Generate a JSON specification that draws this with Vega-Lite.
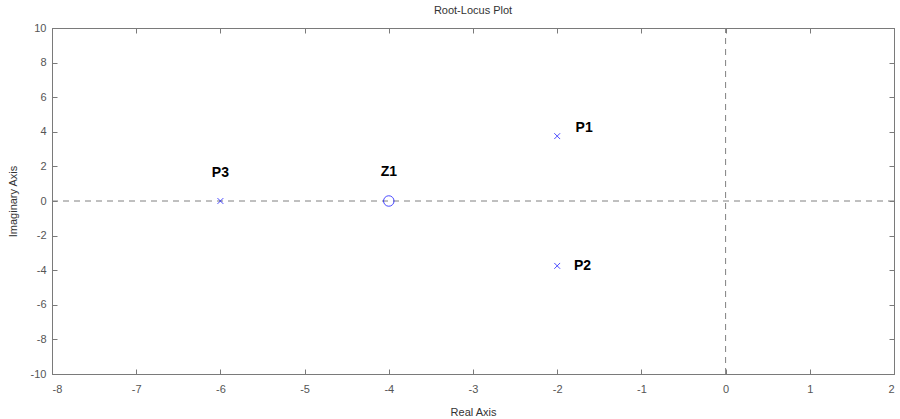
{
  "$schema": "https://vega.github.io/schema/vega-lite/v6.json",
  "width": 842,
  "height": 346,
  "autosize": {"type": "none"},
  "padding": {"left": 52, "top": 28, "right": 6, "bottom": 45},
  "background": "white",
  "config": {
    "font": "Liberation Sans",
    "view": {"stroke": "#7a7a7a", "strokeWidth": 1},
    "axis": {
      "grid": false,
      "domainColor": "#7a7a7a",
      "tickColor": "#7a7a7a",
      "labelColor": "#555555",
      "labelFontSize": 11,
      "titleFontSize": 11,
      "titleFontWeight": "normal",
      "titleColor": "#333333",
      "tickSize": -5
    }
  },
  "title": {
    "text": "Root-Locus Plot",
    "fontSize": 11,
    "fontWeight": "normal",
    "color": "#333333",
    "offset": 6
  },
  "datasets": {
    "pts": [
      {"re": -2, "im": 3.75, "kind": "pole", "label": "P1", "lx": -1.68, "ly": 4.2},
      {"re": -2, "im": -3.75, "kind": "pole", "label": "P2", "lx": -1.7, "ly": -3.75},
      {"re": -6, "im": 0, "kind": "pole", "label": "P3", "lx": -6, "ly": 1.6},
      {"re": -4, "im": 0, "kind": "zero", "label": "Z1", "lx": -4, "ly": 1.65}
    ],
    "hline": [{"x1": -8, "x2": 2, "y": 0}],
    "vline": [{"x": 0, "y1": -10, "y2": 10}]
  },
  "layer": [
    {
      "data": {"name": "hline"},
      "mark": {"type": "rule", "color": "#808080", "strokeDash": [6, 5], "strokeWidth": 1},
      "encoding": {
        "x": {"field": "x1", "type": "quantitative", "scale": {"domain": [-8, 2], "nice": false, "zero": false},
          "axis": {"title": "Real Axis", "values": [-8,-7,-6,-5,-4,-3,-2,-1,0,1,2], "labelExpr": "'' + datum.value", "labelPadding": 14, "titlePadding": 12}},
        "x2": {"field": "x2"},
        "y": {"field": "y", "type": "quantitative", "scale": {"domain": [-10, 10], "nice": false, "zero": false},
          "axis": {"title": "Imaginary Axis", "values": [-10,-8,-6,-4,-2,0,2,4,6,8,10], "labelExpr": "'' + datum.value", "labelPadding": 11, "titlePadding": 12}}
      }
    },
    {
      "data": {"name": "vline"},
      "mark": {"type": "rule", "color": "#808080", "strokeDash": [6, 5], "strokeWidth": 1},
      "encoding": {
        "x": {"field": "x", "type": "quantitative", "axis": null},
        "y": {"field": "y1", "type": "quantitative", "axis": null},
        "y2": {"field": "y2"}
      }
    },
    {
      "data": {"name": "pts"},
      "transform": [{"filter": "datum.kind == 'pole'"}],
      "mark": {"type": "point", "shape": "M-1,-1L1,1M1,-1L-1,1", "size": 34, "stroke": "#0000ff", "strokeWidth": 1, "filled": false},
      "encoding": {
        "x": {"field": "re", "type": "quantitative", "axis": null},
        "y": {"field": "im", "type": "quantitative", "axis": null}
      }
    },
    {
      "data": {"name": "pts"},
      "transform": [{"filter": "datum.kind == 'zero'"}],
      "mark": {"type": "point", "shape": "circle", "size": 110, "stroke": "#0000ff", "strokeWidth": 1, "filled": false},
      "encoding": {
        "x": {"field": "re", "type": "quantitative", "axis": null},
        "y": {"field": "im", "type": "quantitative", "axis": null}
      }
    },
    {
      "data": {"name": "pts"},
      "mark": {"type": "text", "fontSize": 14, "fontWeight": "bold", "color": "#000000"},
      "encoding": {
        "x": {"field": "lx", "type": "quantitative", "axis": null},
        "y": {"field": "ly", "type": "quantitative", "axis": null},
        "text": {"field": "label"}
      }
    },
    {
      "data": {"name": "hline"},
      "mark": {"type": "rule", "opacity": 0},
      "encoding": {
        "x": {"field": "x1", "type": "quantitative", "axis": {"orient": "top", "title": null, "labels": false, "values": [-8,-7,-6,-5,-4,-3,-2,-1,0,1,2]}},
        "y": {"field": "y", "type": "quantitative", "axis": {"orient": "right", "title": null, "labels": false, "values": [-10,-8,-6,-4,-2,0,2,4,6,8,10]}}
      }
    }
  ],
  "resolve": {"axis": {"x": "independent", "y": "independent"}}
}
